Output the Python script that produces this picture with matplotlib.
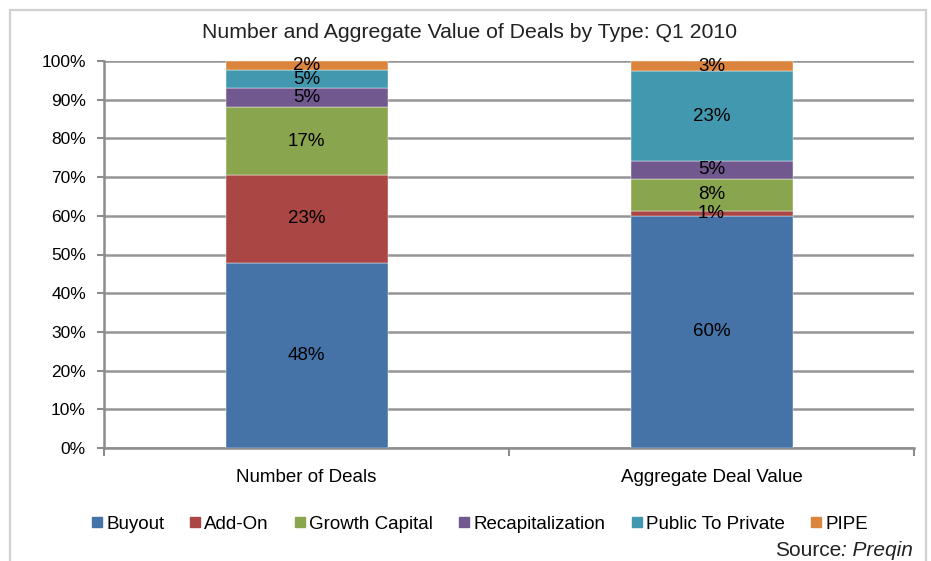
import numpy as np
import matplotlib.pyplot as plt
from matplotlib.lines import Line2D

plt.rcParams['font.family'] = ['Liberation Sans', 'DejaVu Sans']

categories = ['Number of Deals', 'Aggregate Deal Value']
series = ['Buyout', 'Add-On', 'Growth Capital', 'Recapitalization',
          'Public To Private', 'PIPE']
# share of each deal type (%), per category
deals = [47.8, 22.8, 17.4, 5.0, 4.6, 2.4]
value = [60.0, 1.2, 8.4, 4.6, 23.1, 2.7]
colors = ['#4572A7', '#AA4643', '#89A54E', '#71588F', '#4198AF', '#DB843D']

fig = plt.figure(figsize=(9.31, 5.61), dpi=100)
ax = fig.add_axes([104 / 931, 1 - 448 / 561, (914 - 104) / 931, (448 - 61) / 561])

data = np.array([deals, value])  # rows: categories
x = np.arange(len(categories))
bottom = np.zeros(len(categories))
for i, name in enumerate(series):
    vals = data[:, i]
    ax.bar(x, vals, 0.4, bottom=bottom, color=colors[i], label=name,
           edgecolor='white', linewidth=0.3, zorder=3)
    for xi, v, b in zip(x, vals, bottom):
        ax.text(xi, b + v / 2, f'{v:.0f}%', ha='center', va='center',
                fontsize=13.5, color='black', zorder=4)
    bottom += vals

ax.set_xlim(-0.5, 1.5)
ax.set_ylim(0, 100)
ax.set_yticks(np.arange(0, 101, 10))
ax.set_yticklabels([f'{t}%' for t in range(0, 101, 10)], fontsize=12.5)
ax.yaxis.grid(True, color='#959595', linewidth=1.8, zorder=0)
ax.set_axisbelow(True)

# category labels in between boundary ticks
ax.set_xticks([-0.5, 0.5, 1.5])
ax.set_xticklabels([])
ax.set_xticks(x, minor=True)
ax.set_xticklabels(categories, minor=True, fontsize=13.5)
ax.tick_params(axis='x', which='minor', length=0, pad=15)
ax.tick_params(axis='x', which='major', length=6, width=1.5, color='#8c8c8c')
ax.tick_params(axis='y', length=5, width=1.5, color='#8c8c8c', pad=8)

for s in ['top', 'right']:
    ax.spines[s].set_visible(False)
for s in ['left', 'bottom']:
    ax.spines[s].set_color('#8c8c8c')
    ax.spines[s].set_linewidth(1.8)

fig.text(469 / 931, 1 - 32 / 561, 'Number and Aggregate Value of Deals by Type: Q1 2010',
         ha='center', va='center', fontsize=15.3, color='#222222')

handles = [Line2D([], [], marker='s', linestyle='', color=c, markersize=7)
           for c in colors]
fig.legend(handles, series, loc='center', bbox_to_anchor=(478 / 931, 1 - 524 / 561),
           ncol=6, frameon=False, fontsize=13.5, handletextpad=0.05,
           columnspacing=1.2, handlelength=0.9)

src = fig.text(913 / 931, 1 - 550 / 561, ': Preqin', ha='right', va='center',
               fontsize=15, style='italic', color='#222222')
fig.canvas.draw()
bb = src.get_window_extent()
fig.text(bb.x0 / fig.bbox.width, 1 - 550 / 561, 'Source', ha='right', va='center',
         fontsize=15, color='#222222')

# outer chart frame
fc = '#d0d0d0'
fig.add_artist(Line2D([9.5 / 931, 9.5 / 931], [0, 1 - 9.5 / 561], color=fc, lw=1.6))
fig.add_artist(Line2D([9.5 / 931, 925.5 / 931], [1 - 9.5 / 561, 1 - 9.5 / 561], color=fc, lw=1.6))
fig.add_artist(Line2D([925.5 / 931, 925.5 / 931], [0, 1 - 9.5 / 561], color=fc, lw=1.6))

fig.savefig('out.png', dpi=100)
